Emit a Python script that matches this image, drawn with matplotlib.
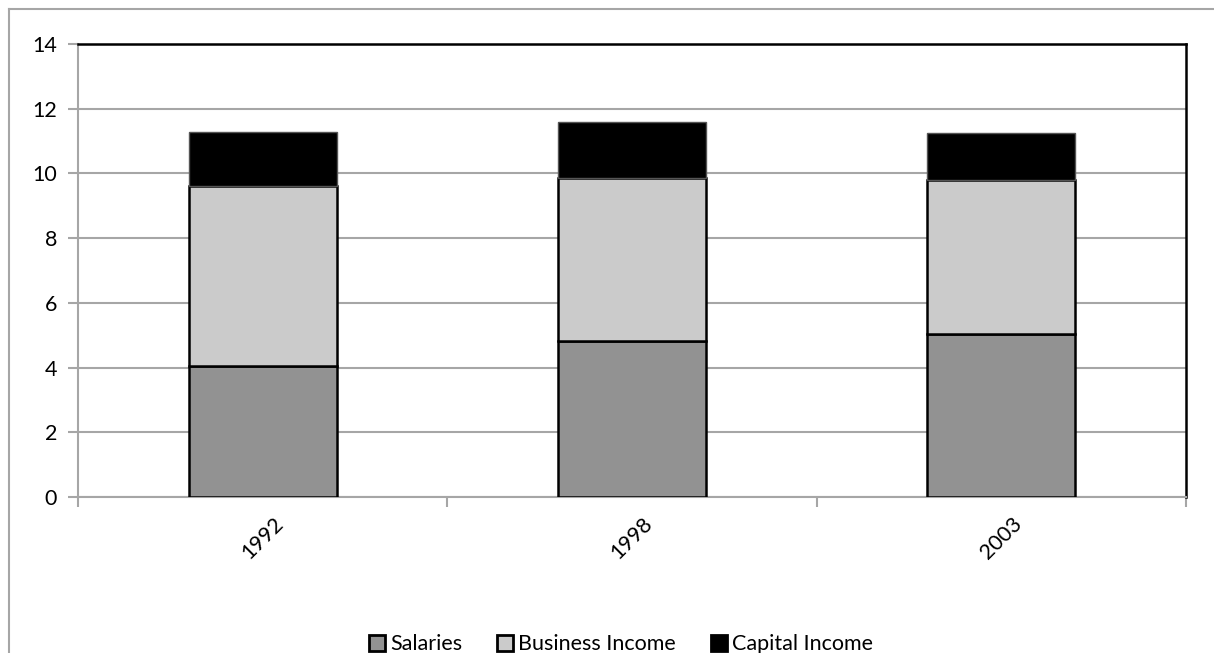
import numpy as np
import matplotlib.pyplot as plt
from matplotlib.lines import Line2D

years = ["1992", "1998", "2003"]
salaries = [4.05, 4.82, 5.04]
business = [5.56, 5.04, 4.76]
capital = [1.67, 1.73, 1.45]

plt.rcParams['font.family'] = ['Lato', 'DejaVu Sans']

fig = plt.figure(figsize=(12.14, 6.53), dpi=100)
ax = fig.add_axes([78/1214, 1-497/653, (1186-78)/1214, (497-44)/653])

# outer chart frame (only top and left visible)
fig.add_artist(Line2D([9/1214, 1], [1-9/653, 1-9/653], color='#a6a6a6', lw=1.5))
fig.add_artist(Line2D([9/1214, 9/1214], [0, 1-9/653], color='#a6a6a6', lw=1.5))

x = np.arange(len(years))
w = 0.4
s = np.array(salaries)
b = np.array(business)
c = np.array(capital)
ax.bar(x, s, w, color='#929292', edgecolor='black', lw=1.8, label='Salaries', zorder=3)
ax.bar(x, b, w, bottom=s, color='#cbcbcb', edgecolor='black', lw=1.8,
       label='Business Income', zorder=3)
ax.bar(x, c, w, bottom=s+b, color='black', edgecolor='#555555', lw=1.0,
       label='Capital Income', zorder=3)

ax.set_xlim(-0.5, 2.5)
ax.set_ylim(0, 14)
ax.set_yticks(range(0, 15, 2))
ax.yaxis.grid(True, color='#a6a6a6', lw=1.5, zorder=0)
ax.set_axisbelow(True)

ax.set_xticks(x)
ax.set_xticklabels(years, rotation=45, fontsize=15.5)
ax.set_xticks([-0.5, 0.5, 1.5, 2.5], minor=True)
ax.tick_params(axis='x', which='major', length=0, pad=12)
ax.tick_params(axis='x', which='minor', length=7, width=1.5, color='#a6a6a6')
ax.tick_params(axis='y', length=7, width=1.5, color='#a6a6a6', labelsize=15.5, pad=8)

for sp in ['top', 'right']:
    ax.spines[sp].set_color('black')
    ax.spines[sp].set_linewidth(1.8)
for sp in ['left', 'bottom']:
    ax.spines[sp].set_color('#a6a6a6')
    ax.spines[sp].set_linewidth(1.5)

leg = ax.legend(loc='center', bbox_to_anchor=(0.49, -0.325), ncol=3, frameon=False,
                fontsize=15.5, handlelength=0.75, handleheight=0.75, handletextpad=0.25,
                columnspacing=1.6)
for h in leg.legend_handles:
    h.set_edgecolor('black')
    h.set_linewidth(2)

fig.savefig('out.png', dpi=100)
